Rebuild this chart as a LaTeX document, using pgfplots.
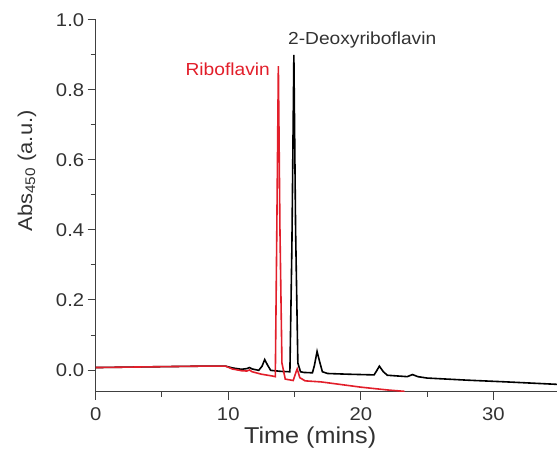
\documentclass[border=0pt]{standalone}
\usepackage{fontspec}
\setmainfont[FakeStretch=1.1]{Liberation Sans}
\usepackage{pgfplots}
\pgfplotsset{compat=1.18}
\definecolor{ribored}{RGB}{226,30,42}
\definecolor{txt}{RGB}{50,50,50}
\begin{document}
\begin{tikzpicture}
\useasboundingbox (-95.7bp,-68.3bp) rectangle (461.3bp,391.7bp);
\begin{axis}[
  at={(0,0)}, anchor=south west,
  width=461.3bp, height=371.7bp, scale only axis,
  xmin=0, xmax=34.8, ymin=-0.062, ymax=1.0,
  axis x line=bottom, axis y line=left,
  axis line style={-, line width=1bp, black!75},
  tick align=outside, tick style={line width=1bp, black!75},
  major tick length=8bp, minor tick length=5bp,
  xtick={0,10,20,30}, minor x tick num=1,
  ytick={0,0.2,0.4,0.6,0.8,1.0}, minor y tick num=1,
  yticklabel style={/pgf/number format/.cd, fixed, fixed zerofill, precision=1},
  xticklabel style={yshift=-4bp},
  /pgf/number format/assume math mode=true,
  tick label style={font=\fontsize{18.5}{22}\selectfont, text=txt},
  xlabel={Time (mins)}, ylabel={Abs\textsubscript{450} (a.u.)},
  xlabel style={font=\fontsize{23}{27}\selectfont, text=txt,
    at={(axis description cs:0.465,0)}, yshift=-46bp, anchor=center},
  ylabel style={font=\fontsize{20}{24}\selectfont, text=txt,
    at={(axis description cs:-0.149,0.594)}, anchor=center},
  clip=true,
]
% black: 2-deoxyriboflavin
\addplot[black, line width=1.6bp] coordinates {
(0,0.007) (2,0.008) (4,0.009) (6,0.010) (8,0.011) (9.8,0.011) (10.3,0.006)
(11,0.002) (11.4,0.004) (11.6,0.007) (11.8,0.003) (12.3,-0.001) (12.55,0.011)
(12.75,0.03) (12.95,0.015) (13.2,-0.001) (14,-0.004) (14.65,-0.005)
(14.8,0.35) (14.95,0.9) (15.08,0.4) (15.25,0.02) (15.45,-0.005)
(15.7,-0.007) (16.35,-0.008) (16.5,0.013) (16.7,0.053) (16.9,0.023) (17.1,-0.005)
(17.5,-0.01) (19,-0.012) (21,-0.014) (21.2,-0.002) (21.4,0.011) (21.7,-0.005)
(22,-0.015) (23.5,-0.019) (23.9,-0.013) (24.3,-0.019) (25,-0.023)
(28,-0.029) (31,-0.034) (34.8,-0.041)
};
% red: riboflavin
\addplot[ribored, line width=1.6bp] coordinates {
(0,0.007) (2,0.008) (4,0.009) (6,0.010) (8,0.011) (9.8,0.011) (10.3,0.003)
(11,-0.002) (11.4,-0.003) (11.6,0.0) (11.8,-0.005) (12.5,-0.012)
(13.3,-0.017) (13.55,-0.019) (13.65,0.35) (13.78,0.868) (13.9,0.4)
(14.05,0.02) (14.3,-0.026) (14.9,-0.03) (15.1,-0.007) (15.2,0.003)
(15.4,-0.022) (15.8,-0.031) (17,-0.034) (18,-0.039) (19,-0.044)
(20,-0.049) (21,-0.053) (22,-0.057) (23.3,-0.061)
};
\node[anchor=east, text=ribored, font=\fontsize{17.5}{21}\selectfont, inner sep=0pt] at (axis cs:13.15,0.86) {Riboflavin};
\node[anchor=west, text=txt, font=\fontsize{17.5}{21}\selectfont, inner sep=0pt] at (axis cs:14.5,0.943) {2-Deoxyriboflavin};
\end{axis}
\end{tikzpicture}
\end{document}
